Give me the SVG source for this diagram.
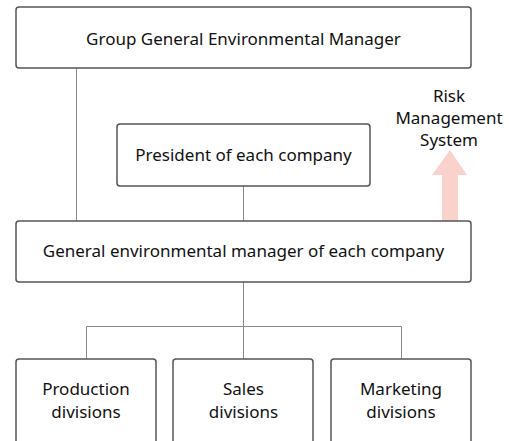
<svg xmlns="http://www.w3.org/2000/svg" width="509" height="441" viewBox="0 0 509 441">
<style>
.box{fill:#fff;stroke:#555;stroke-width:1.5}
.t{font-family:"Noto Sans",sans-serif;font-size:17px;fill:#111;text-anchor:middle}
.c{stroke:#888;stroke-width:1;fill:none}
</style>
<rect width="509" height="441" fill="#fff"/>
<g id="connectors">
<path class="c" d="M76.5 68V221"/>
<path class="c" d="M243.5 186V221"/>
<path class="c" d="M243.5 282V359"/>
<path class="c" d="M86.5 359V326.5H401.5V359"/>
<polygon id="risk-arrow" points="442,221 442,175 432,175 450,150 467,175 458,175 458,221" fill="#f9d3cb"/>
</g>
<g id="group-manager">
<rect class="box" x="16" y="7" width="455" height="61" rx="3"/>
<text class="t" x="243.5" y="45">Group General Environmental Manager</text>
</g>
<g id="risk-label">
<text class="t" x="449" y="102">Risk</text>
<text class="t" x="449" y="124">Management</text>
<text class="t" x="449" y="146">System</text>
</g>
<g id="president">
<rect class="box" x="117" y="124" width="253" height="62" rx="3"/>
<text class="t" x="243.5" y="161">President of each company</text>
</g>
<g id="general-manager">
<rect class="box" x="16" y="221" width="455" height="61" rx="3"/>
<text class="t" x="243.5" y="257">General environmental manager of each company</text>
</g>
<g id="production">
<rect class="box" x="16" y="359" width="140" height="90" rx="3"/>
<text class="t" x="86" y="395">Production</text>
<text class="t" x="86" y="418">divisions</text>
</g>
<g id="sales">
<rect class="box" x="173" y="359" width="140" height="90" rx="3"/>
<text class="t" x="243.5" y="395">Sales</text>
<text class="t" x="243.5" y="418">divisions</text>
</g>
<g id="marketing">
<rect class="box" x="331" y="359" width="140" height="90" rx="3"/>
<text class="t" x="401" y="395">Marketing</text>
<text class="t" x="401" y="418">divisions</text>
</g>
</svg>
